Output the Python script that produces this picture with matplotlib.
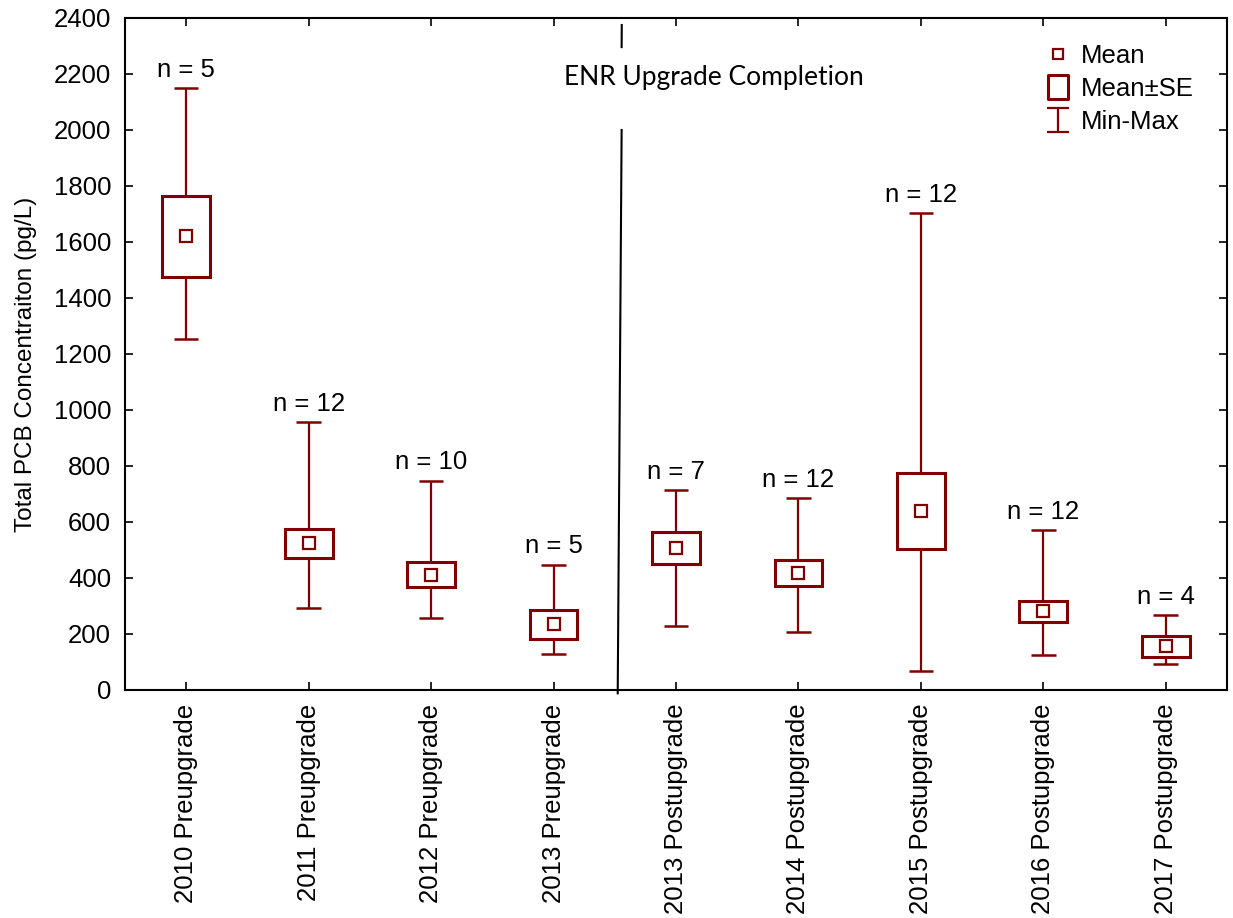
import matplotlib
matplotlib.use("Agg")
import matplotlib.pyplot as plt
from matplotlib.lines import Line2D
from matplotlib.path import Path
import numpy as np

categories = ["2010 Preupgrade", "2011 Preupgrade", "2012 Preupgrade", "2013 Preupgrade",
              "2013 Postupgrade", "2014 Postupgrade", "2015 Postupgrade", "2016 Postupgrade",
              "2017 Postupgrade"]
means = [1620, 524, 412, 235, 508, 419, 639, 281, 156]
se = [145, 51, 46, 52, 57, 46, 135, 37, 37]
mins = [1254, 294, 257, 129, 229, 208, 66, 125, 94]
maxs = [2150, 958, 748, 448, 713, 686, 1704, 570, 269]
n_counts = [5, 12, 10, 5, 7, 12, 12, 12, 4]
yticks = [0, 200, 400, 600, 800, 1000, 1200, 1400, 1600, 1800, 2000, 2200, 2400]

RED = "#800000"
plt.rcParams['font.family'] = ['Liberation Sans', 'DejaVu Sans']

fig = plt.figure(figsize=(12.33, 9.18), dpi=100)
ax = fig.add_axes([0.1014, 0.2484, 0.8937, 0.732])

x = np.arange(len(categories))
means_a = np.array(means)
se_a = np.array(se)
lo = means_a - se_a
hi = means_a + se_a

# whiskers
ax.vlines(x, mins, lo, color=RED, lw=1.6, zorder=2)
ax.vlines(x, hi, maxs, color=RED, lw=1.6, zorder=2)
ax.hlines(mins, x - 0.1, x + 0.1, color=RED, lw=1.8, zorder=2)
ax.hlines(maxs, x - 0.1, x + 0.1, color=RED, lw=1.8, zorder=2)
# boxes
ax.bar(x, hi - lo, bottom=lo, width=0.39, facecolor="white", edgecolor=RED, linewidth=2.2, zorder=3)
# means
ax.plot(x, means, linestyle="none", marker="s", markersize=8.5, markerfacecolor="white",
        markeredgecolor=RED, markeredgewidth=1.6, zorder=4)

for xi, mx, n in zip(x, maxs, n_counts):
    ax.annotate(f"n = {n}", (xi, mx), xytext=(0, 13), textcoords="offset points",
                ha="center", va="center", fontsize=18.5)

# ENR line
ax.plot([3.524, 3.556], [-12, 2000], color="black", lw=1.5, clip_on=False, zorder=5)
ax.plot([3.556, 3.557], [2296, 2375], color="black", lw=1.5, zorder=5)
ax.text(4.31, 2189, "ENR Upgrade Completion", ha="center", va="center", fontsize=19,
        family=["Lato", "DejaVu Sans"])

ax.set_xlim(-0.5, 8.5)
ax.set_ylim(0, 2400)
ax.set_yticks(yticks)
ax.set_xticks(x)
ax.set_xticklabels(categories, rotation=90, fontsize=18.5)
ax.tick_params(axis="y", labelsize=18.5, direction="in", length=6, width=1.2, right=True, pad=10)
ax.tick_params(axis="x", direction="in", length=6, width=1.2, top=True, pad=10)
ax.set_ylabel("Total PCB Concentraiton (pg/L)", fontsize=17.5)
ax.yaxis.set_label_coords(-0.080, 0.485)
for s in ax.spines.values():
    s.set_linewidth(1.5)

# legend
box_path = Path([(-0.42, -0.5), (0.42, -0.5), (0.42, 0.5), (-0.42, 0.5), (-0.42, -0.5)],
                [Path.MOVETO, Path.LINETO, Path.LINETO, Path.LINETO, Path.CLOSEPOLY])
ibeam_path = Path([(-0.45, 0.5), (0.45, 0.5), (0, 0.5), (0, -0.5), (-0.45, -0.5), (0.45, -0.5)],
                  [Path.MOVETO, Path.LINETO, Path.MOVETO, Path.LINETO, Path.MOVETO, Path.LINETO])
handles = [
    Line2D([], [], linestyle="none", marker="s", markersize=7, markerfacecolor="white",
           markeredgecolor=RED, markeredgewidth=1.6),
    Line2D([], [], linestyle="none", marker=box_path, markersize=17.5, markerfacecolor="white",
           markeredgecolor=RED, markeredgewidth=2.2),
    Line2D([], [], linestyle="none", marker=ibeam_path, markersize=17.5, markerfacecolor="none",
           markeredgecolor=RED, markeredgewidth=1.6),
]
ax.legend(handles, ["Mean", "Mean±SE", "Min-Max"], loc="upper right", frameon=False,
          fontsize=18.5, handlelength=1.0, handletextpad=0.4, labelspacing=0.35,
          bbox_to_anchor=(0.991, 0.996))

fig.savefig("out.png", dpi=100)
